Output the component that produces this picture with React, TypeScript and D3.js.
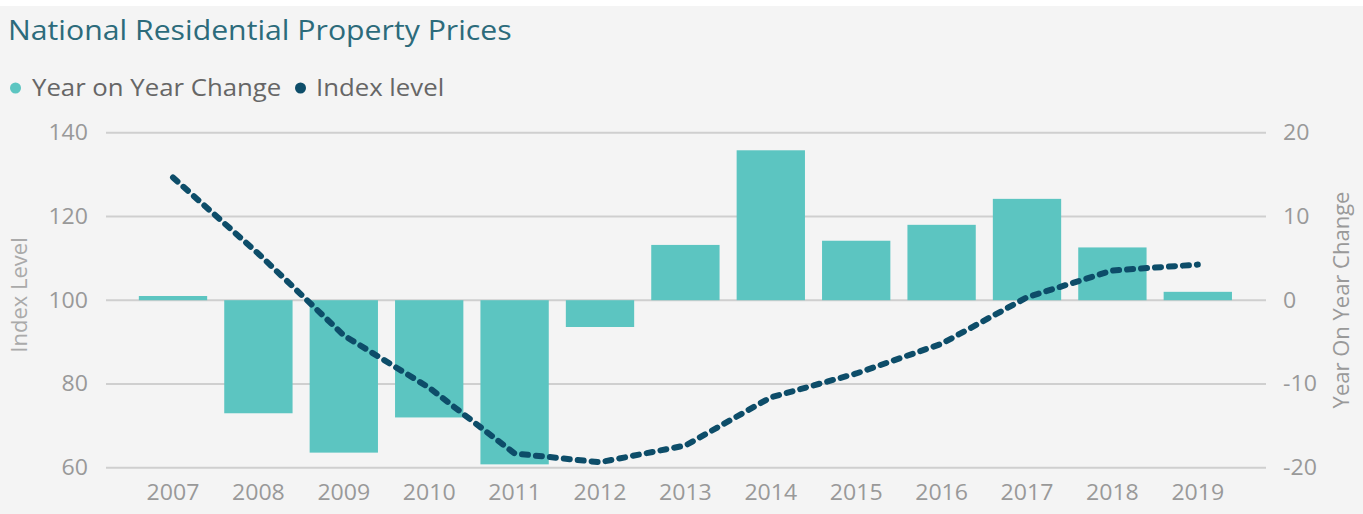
import React from 'react';
import * as d3 from 'd3';

const years = ['2007', '2008', '2009', '2010', '2011', '2012', '2013', '2014', '2015', '2016', '2017', '2018', '2019'];
const yoyChange = [0.5, -13.5, -18.2, -14.0, -19.6, -3.2, 6.6, 17.9, 7.1, 9.0, 12.1, 6.3, 1.0];
const indexLevel = [129.3, 111.1, 91.6, 79.1, 63.4, 61.3, 65.3, 76.8, 82.5, 89.6, 100.7, 107.1, 108.5];
const leftTicks = [60, 80, 100, 120, 140];
const rightTicks = [-20, -10, 0, 10, 20];
const legendItems = ['Year on Year Change', 'Index level'];

const W = 1363;
const H = 514;
const BAR = '#5cc5c1';
const LINE = '#0d4d69';
const FONT = '"Open Sans", "Noto Sans", sans-serif';

type TProps = {
  x: number;
  y: number;
  sx?: number;
  size: number;
  fill: string;
  anchor?: 'start' | 'middle' | 'end';
  dy?: string;
  children: React.ReactNode;
};

function T({ x, y, sx = 1.1, size, fill, anchor = 'start', dy, children }: TProps) {
  return (
    <text transform={`translate(${x},${y}) scale(${sx},1)`} dy={dy} textAnchor={anchor} fontSize={size} fill={fill}>
      {children}
    </text>
  );
}

export default function App() {
  const x = d3.scaleBand<string>().domain(years).range([130.3, 1240.5]).paddingInner(0.2).paddingOuter(0.1);
  const yL = d3.scaleLinear().domain([60, 140]).range([467.7, 132.7]);
  const yR = d3.scaleLinear().domain([-20, 20]).range([467.7, 132.7]);
  const cx = (yr: string) => (x(yr) as number) + x.bandwidth() / 2;
  const line = d3.line<number>()
    .x((_, i) => cx(years[i]))
    .y((d) => yL(d));
  const gridX0 = 106;
  const gridX1 = 1266;

  return (
    <svg width={W} height={H} style={{ position: 'absolute', left: 0, top: 0 }} fontFamily={FONT}>
      <rect x={0} y={0} width={W} height={H} fill="#ffffff" />
      <rect x={0} y={6} width={W} height={H - 6} fill="#f4f4f4" />
      <T x={8} y={40} sx={1.12} size={27} fill="#2c6b7b">National Residential Property Prices</T>
      {/* legend */}
      <circle cx={15.5} cy={88} r={5.5} fill={BAR} />
      <T x={32} y={96} sx={1.12} size={23} fill="#666666">{legendItems[0]}</T>
      <circle cx={300.5} cy={88} r={5.5} fill={LINE} />
      <T x={316} y={96} sx={1.12} size={23} fill="#666666">{legendItems[1]}</T>
      {/* grid */}
      {leftTicks.map((t) => (
        <g key={t}>
          <line x1={gridX0} x2={gridX1} y1={yL(t)} y2={yL(t)} stroke="#cfcfcf" strokeWidth={2} />
          <T x={88} y={yL(t)} dy="0.35em" anchor="end" size={21} fill="#999999">{t}</T>
        </g>
      ))}
      {rightTicks.map((t) => (
        <T key={t} x={1283} y={yR(t)} dy="0.35em" size={21} fill="#999999">{t}</T>
      ))}
      {/* bars */}
      {years.map((yr, i) => {
        const v = yoyChange[i];
        const y0 = yR(0);
        const y1 = yR(v);
        return (
          <rect key={yr} x={x(yr)} width={x.bandwidth()} y={Math.min(y0, y1)} height={Math.abs(y1 - y0)} fill={BAR} />
        );
      })}
      {/* line */}
      <path d={line(indexLevel) || ''} fill="none" stroke={LINE} strokeWidth={6} strokeDasharray="6 8" strokeLinecap="round" strokeLinejoin="round" />
      {/* x labels */}
      {years.map((yr) => (
        <T key={yr} x={cx(yr)} y={500} anchor="middle" size={21} fill="#999999">{yr}</T>
      ))}
      {/* axis titles */}
      <text transform="translate(27,295) rotate(-90)" textAnchor="middle" fontSize={22} fill="#aaaaaa">Index Level</text>
      <text transform="translate(1349,300) rotate(-90)" textAnchor="middle" fontSize={22} fill="#999999">Year On Year Change</text>
    </svg>
  );
}
